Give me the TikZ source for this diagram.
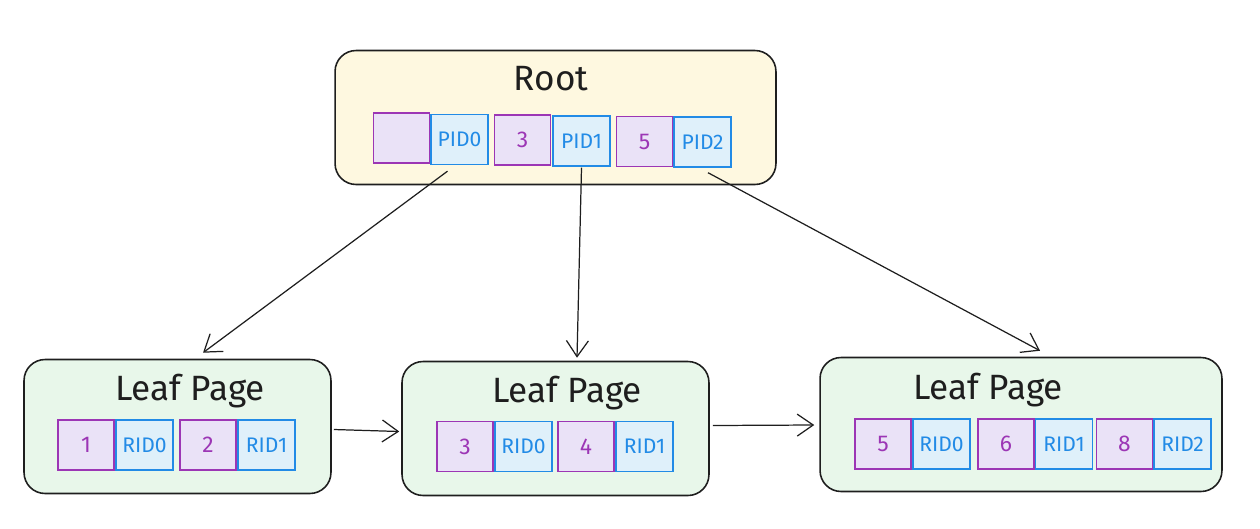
\documentclass[tikz,border=0pt]{standalone}
\usepackage{fontspec}
\setmainfont{Fira Sans}
\usetikzlibrary{calc}
\usetikzlibrary{arrows.meta}
\definecolor{keyline}{HTML}{9C36B5}
\definecolor{keyfill}{HTML}{EAE2F7}
\definecolor{ptrline}{HTML}{228BE6}
\definecolor{ptrfill}{HTML}{DFF0FA}
\definecolor{rootfill}{HTML}{FEF8E0}
\definecolor{leaffill}{HTML}{E8F7EA}
\definecolor{ink}{HTML}{1E1E1E}
\tikzset{
  page/.style={draw=ink, line width=0.9pt, rounded corners=0.42cm, minimum height=2.68cm},
  keycell/.style={draw=keyline, fill=keyfill, line width=0.8pt, minimum width=1.12cm, minimum height=1cm, inner sep=0pt, text=keyline, font=\fontsize{13}{15}\selectfont},
  ptrcell/.style={draw=ptrline, fill=ptrfill, line width=0.8pt, minimum width=1.14cm, minimum height=1cm, inner sep=0pt, text=ptrline, font=\fontsize{12}{14}\selectfont},
  title/.style={text=ink, font=\fontsize{20}{24}\selectfont},
  link/.style={draw=ink, line width=0.7pt, -{Straight Barb[length=3.2mm,width=4.4mm]}}
}
\begin{document}
\begin{tikzpicture}[x=0.02cm, y=-0.02cm]
            \useasboundingbox (0,0) rectangle (1260,528);
            \node[page, fill=rootfill, minimum width=8.82cm] (root) at (555.5,117.5) {};
            \node[page, fill=leaffill, minimum width=6.14cm] (leafa) at (177.5,426.5) {};
            \node[page, fill=leaffill, minimum width=6.14cm] (leafb) at (555.5,428.5) {};
            \node[page, fill=leaffill, minimum width=8.04cm] (leafc) at (1021,424.5) {};
            \node[title] (roottitle) at (551,79) {Root};
            \node[title] (leafatitle) at (190,391) {Leaf Page};
            \node[title] (leafbtitle) at (567,393) {Leaf Page};
            \node[title] (leafctitle) at (988,390) {Leaf Page};
            \node[keycell] (rk0) at (401.5,138) {};
            \node[ptrcell] (pid0) at (459.5,139.5) {PID0};
            \node[keycell] (rk1) at (522.5,140) {3};
            \node[ptrcell] (pid1) at (581.5,141) {PID1};
            \node[keycell] (rk2) at (644.5,141.5) {5};
            \node[ptrcell] (pid2) at (702.5,142) {PID2};
            \node[keycell] (ak0) at (86,445) {1};
            \node[ptrcell] (arid0) at (144.5,445) {RID0};
            \node[keycell] (ak1) at (208,445) {2};
            \node[ptrcell] (arid1) at (266.5,445) {RID1};
            \node[keycell] (bk0) at (465,446.5) {3};
            \node[ptrcell] (brid0) at (523.5,446.5) {RID0};
            \node[keycell] (bk1) at (586,446.5) {4};
            \node[ptrcell] (brid1) at (644.5,446.5) {RID1};
            \node[keycell] (ck0) at (883,444) {5};
            \node[ptrcell] (crid0) at (941.5,444) {RID0};
            \node[keycell] (ck1) at (1006,444) {6};
            \node[ptrcell] (crid1) at (1064,444) {RID1};
            \node[keycell] (ck2) at (1124.5,444) {8};
            \node[ptrcell] (crid2) at (1182.5,444) {RID2};
            \draw[link] ($(pid0.south)+(-12,6)$) -- ($(leafa.north)+(25.5,-6)$);
            \draw[link] ($(pid1.south)+(0,1)$) -- ($(leafb.north)+(21.5,-3)$);
            \draw[link] ($(pid2.south)+(5.5,5)$) -- ($(leafc.north)+(19,-6)$);
            \draw[link] ($(leafa.east)+(2,3)$) -- ($(leafb.west)+(-2,3)$);
            \draw[link] ($(leafb.east)+(3,-3)$) -- ($(leafc.west)+(-5,0.5)$);
        \end{tikzpicture}
\end{document}
